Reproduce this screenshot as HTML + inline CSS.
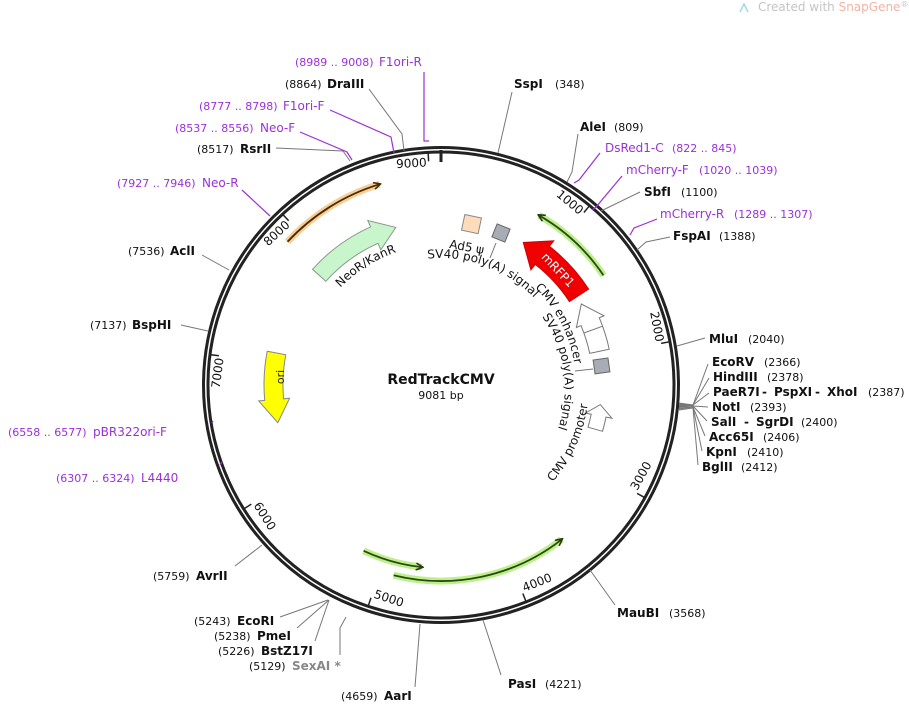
<!DOCTYPE html>
<html><head><meta charset="utf-8"><style>
html,body{margin:0;padding:0;background:#fff;}
svg{display:block;font-family:"DejaVu Sans","Liberation Sans",sans-serif;}
.n{font-size:11px;fill:#111;}
.b{font-size:12px;font-weight:bold;fill:#111;}
.p{font-size:12px;fill:#9b30d9;}
.pn{font-size:11px;fill:#9b30d9;}
.t{font-size:12px;fill:#111;}
.lk{stroke:#777;stroke-width:1;fill:none;}
.lp{stroke:#9b30d9;stroke-width:1.2;fill:none;}
</style></head><body>
<svg width="909" height="704" viewBox="0 0 909 704" xmlns="http://www.w3.org/2000/svg">
<defs>
<marker id="ah" markerWidth="8" markerHeight="8" refX="6" refY="4" orient="auto" markerUnits="userSpaceOnUse"><path d="M0,0.5 L7,4 L0,7.5" fill="none" stroke="#2a3a10" stroke-width="1.6"/></marker>
<marker id="ahb" markerWidth="8" markerHeight="8" refX="6" refY="4" orient="auto" markerUnits="userSpaceOnUse"><path d="M0,0.5 L7,4 L0,7.5" fill="none" stroke="#4a2a08" stroke-width="1.6"/></marker>
<path id="p1" d="M427.7,258.7 A127,127 0 1 1 454.3,511.3 A127,127 0 1 1 427.7,258.7"/>
<path id="p2" d="M534.8,287.9 A135,135 0 1 1 347.2,482.1 A135,135 0 1 1 534.8,287.9"/>
<path id="p3" d="M542.1,316.8 A122,122 0 1 1 339.9,453.2 A122,122 0 1 1 542.1,316.8"/>
<path id="p4" d="M552.7,482.1 A148,148 0 1 0 329.3,287.9 A148,148 0 1 0 552.7,482.1"/>
<path id="p5" d="M340.3,287.7 A140,140 0 1 1 541.7,482.3 A140,140 0 1 1 340.3,287.7"/>
</defs>

<path d="M740,12 L744,4 L748,12" fill="none" stroke="#9fd8e8" stroke-width="1.5"/>
<text x="758" y="11" font-size="12" fill="#c4c4c4">Created with <tspan fill="#f2b3a3">SnapGene</tspan><tspan font-size="8" dy="-4">®</tspan></text>

<circle cx="441" cy="385" r="237.5" fill="none" stroke="#222" stroke-width="3"/>
<circle cx="441" cy="385" r="233" fill="none" stroke="#222" stroke-width="3"/>
<line x1="441" y1="150" x2="441" y2="162" stroke="#222" stroke-width="3"/>

<g stroke="#222" stroke-width="1.5">
<line x1="441" y1="152" x2="441" y2="161" transform="rotate(-3.17 441 385)"/>
<line x1="441" y1="152" x2="441" y2="161" transform="rotate(39.64 441 385)"/>
<line x1="441" y1="152" x2="441" y2="161" transform="rotate(79.29 441 385)"/>
<line x1="441" y1="152" x2="441" y2="161" transform="rotate(118.93 441 385)"/>
<line x1="441" y1="152" x2="441" y2="161" transform="rotate(158.57 441 385)"/>
<line x1="441" y1="152" x2="441" y2="161" transform="rotate(198.22 441 385)"/>
<line x1="441" y1="152" x2="441" y2="161" transform="rotate(237.86 441 385)"/>
<line x1="441" y1="152" x2="441" y2="161" transform="rotate(277.5 441 385)"/>
<line x1="441" y1="152" x2="441" y2="161" transform="rotate(317.15 441 385)"/>
</g>
<g class="t">
<text x="439" y="166" text-anchor="end" transform="rotate(-3.17 441 385)">9000</text>
<text x="439" y="166" text-anchor="end" transform="rotate(39.64 441 385)">1000</text>
<text x="439" y="166" text-anchor="end" transform="rotate(79.29 441 385)">2000</text>
<text x="443" y="608" transform="rotate(-61.07 441 385)">3000</text>
<text x="443" y="608" transform="rotate(-21.43 441 385)">4000</text>
<text x="443" y="608" transform="rotate(18.22 441 385)">5000</text>
<text x="443" y="608" transform="rotate(57.86 441 385)">6000</text>
<text x="439" y="166" text-anchor="end" transform="rotate(277.5 441 385)">7000</text>
<text x="439" y="166" text-anchor="end" transform="rotate(317.15 441 385)">8000</text>
</g>

<path d="M287.5,241.8 A210,210 0 0 1 379.6,184.2" fill="none" stroke="#f6c98a" stroke-width="7" opacity="0.9"/>
<path d="M287.5,241.8 A210,210 0 0 1 379.6,184.2" fill="none" stroke="#4a2a08" stroke-width="1.8" marker-end="url(#ahb)"/>
<g fill="none">
<path d="M603.5,275.4 A196,196 0 0 0 539,215.3" stroke="#bdf08c" stroke-width="7"/>
<path d="M603.5,275.4 A196,196 0 0 0 539,215.3" stroke="#2a4a12" stroke-width="1.8" marker-end="url(#ah)"/>
<path d="M363.6,550.8 A183,183 0 0 0 421.9,567.1" stroke="#bdf08c" stroke-width="7"/>
<path d="M363.6,550.8 A183,183 0 0 0 421.9,567.1" stroke="#2a4a12" stroke-width="1.8" marker-end="url(#ah)"/>
<path d="M393.6,575.2 A196,196 0 0 0 561.7,539.4" stroke="#bdf08c" stroke-width="7"/>
<path d="M393.6,575.2 A196,196 0 0 0 561.7,539.4" stroke="#2a4a12" stroke-width="1.8" marker-end="url(#ah)"/>
</g>

<path d="M325.8,281.3 L312.5,269.3 A173,173 0 0 1 370.6,226.9 L367.8,220.5 L395.8,227.4 L380.8,249.8 L378,243.3 A155,155 0 0 0 325.8,281.3 Z" fill="#c9f5cc" stroke="#8a9a8a" stroke-width="1"/>
<path d="M267.2,351.2 A177,177 0 0 0 264.7,400.4 L258.7,400.9 L277.8,422.7 L289.6,398.2 L283.6,398.8 A158,158 0 0 1 285.8,354.8 Z" fill="#ffff00" stroke="#888" stroke-width="1"/>
<path d="M569.4,301.6 L588.6,289.1 A176,176 0 0 0 549.4,246.3 L553.7,240.8 L523.3,242.5 L530.9,269.9 L535.2,264.4 A153,153 0 0 1 569.4,301.6 Z" fill="#f00000" stroke="#c00" stroke-width="1"/>
<path d="M589.7,353.4 L609.2,349.2 A172,172 0 0 0 599.3,317.8 L604,315.8 L581.3,304 L576.4,327.5 L581,325.6 A152,152 0 0 1 589.7,353.4 Z" fill="#fff" stroke="#777" stroke-width="1"/>
<line x1="583.9" y1="333" x2="602.6" y2="326.2" stroke="#777" stroke-width="1"/>
<path d="M588,427.2 L602.5,431.3 A168,168 0 0 0 606,417.1 L611.9,418.2 L600.3,404.6 L585.4,413.1 L591.2,414.2 A153,153 0 0 1 588,427.2 Z" fill="#fff" stroke="#777" stroke-width="1"/>
<rect x="463" y="216" width="17" height="16" fill="#fddcbc" stroke="#888" transform="rotate(12 471 224)"/>
<rect x="494" y="226" width="14" height="14" fill="#a8acb4" stroke="#666" transform="rotate(22 501 233)"/>
<rect x="594" y="359" width="15" height="14" fill="#a8acb4" stroke="#666" transform="rotate(-8 601 366)"/>
<line x1="496" y1="243" x2="490" y2="258" class="lk"/>
<line x1="593" y1="369" x2="575" y2="371" class="lk"/>

<text x="558" y="274" text-anchor="middle" font-size="12" fill="#fff" transform="rotate(47 558 270)">mRFP1</text>
<text x="290" y="389" text-anchor="middle" font-size="11" fill="#222" transform="rotate(-90 281 386)">ori</text>
<text x="467" y="251" text-anchor="middle" class="t" transform="rotate(10 467 246)">Ad5 ψ</text>
<text class="t"><textPath href="#p1">SV40 poly(A) signal</textPath></text>
<text class="t"><textPath href="#p2">CMV enhancer</textPath></text>
<text class="t"><textPath href="#p3">SV40 poly(A) signal</textPath></text>
<text class="t"><textPath href="#p4">CMV promoter</textPath></text>
<text class="t"><textPath href="#p5">NeoR/KanR</textPath></text>

<text x="441" y="384" text-anchor="middle" font-size="14" font-weight="bold" fill="#111">RedTrackCMV</text>
<text x="441" y="399" text-anchor="middle" font-size="11" fill="#111">9081 bp</text>

<polyline class="lk" points="498,153 512,92"/>
<polyline class="lk" points="567,182 572,172 578,134"/>
<polyline class="lk" points="601,211 640,192"/>
<polyline class="lk" points="637,250 646,242 670,237"/>
<polyline class="lk" points="677,346 705,338"/>
<polyline class="lk" points="679,403 693,405 708,364"/>
<polyline class="lk" points="679,404 693,405 709,378"/>
<polyline class="lk" points="679,405 693,405 709,393"/>
<polyline class="lk" points="679,406 693,406 708,407"/>
<polyline class="lk" points="679,407 693,406 707,421"/>
<polyline class="lk" points="679,408 693,407 705,436"/>
<polyline class="lk" points="679,409 693,407 702,451"/>
<polyline class="lk" points="679,410 693,408 698,465"/>
<polyline class="lk" points="590,570 615,605"/>
<polyline class="lk" points="483,620 501,675"/>
<polyline class="lk" points="420,624 415,687"/>
<polyline class="lk" points="346,617 340,628 340,655"/>
<polyline class="lk" points="329,600 315,641"/>
<polyline class="lk" points="329,600 297,628"/>
<polyline class="lk" points="328,600 280,617"/>
<polyline class="lk" points="262,545 235,566"/>
<polyline class="lk" points="208,331 181,325"/>
<polyline class="lk" points="229,270 202,255"/>
<polyline class="lk" points="276,148 343,151 350,161"/>
<polyline class="lk" points="369,89 402,134 404,151"/>
<polyline class="lp" points="600,153 579,180 574,183"/>
<polyline class="lp" points="622,176 596,207 592,210"/>
<polyline class="lp" points="657,219 634,228 630,235"/>
<polyline class="lp" points="424,72 424,141 429,141"/>
<polyline class="lp" points="330,110 391,137 394,153"/>
<polyline class="lp" points="300,132 347,152 352,160"/>
<polyline class="lp" points="242,190 270,216"/>
<polyline class="lp" points="213,421 212,423"/>
<polyline class="lp" points="222,462 220,465"/>

<text y="88"><tspan x="514" class="b">SspI</tspan><tspan x="555" class="n">(348)</tspan></text>
<text y="131"><tspan x="580" class="b">AleI</tspan><tspan x="614" class="n">(809)</tspan></text>
<text y="152"><tspan x="605" class="p">DsRed1-C</tspan><tspan x="672" class="pn">(822 .. 845)</tspan></text>
<text y="174"><tspan x="626" class="p">mCherry-F</tspan><tspan x="699" class="pn">(1020 .. 1039)</tspan></text>
<text y="196"><tspan x="644" class="b">SbfI</tspan><tspan x="681" class="n">(1100)</tspan></text>
<text y="218"><tspan x="660" class="p">mCherry-R</tspan><tspan x="734" class="pn">(1289 .. 1307)</tspan></text>
<text y="240"><tspan x="673" class="b">FspAI</tspan><tspan x="719" class="n">(1388)</tspan></text>
<text y="343"><tspan x="709" class="b">MluI</tspan><tspan x="748" class="n">(2040)</tspan></text>
<text y="366"><tspan x="712" class="b">EcoRV</tspan><tspan x="764" class="n">(2366)</tspan></text>
<text y="381"><tspan x="713" class="b">HindIII</tspan><tspan x="767" class="n">(2378)</tspan></text>
<text y="396"><tspan x="713" class="b">PaeR7I</tspan><tspan x="762" class="b">-</tspan><tspan x="774" class="b">PspXI</tspan><tspan x="815" class="b">-</tspan><tspan x="827" class="b">XhoI</tspan><tspan x="868" class="n">(2387)</tspan></text>
<text y="411"><tspan x="712" class="b">NotI</tspan><tspan x="750" class="n">(2393)</tspan></text>
<text y="426"><tspan x="711" class="b">SalI</tspan><tspan x="744" class="b">-</tspan><tspan x="756" class="b">SgrDI</tspan><tspan x="801" class="n">(2400)</tspan></text>
<text y="441"><tspan x="709" class="b">Acc65I</tspan><tspan x="763" class="n">(2406)</tspan></text>
<text y="456"><tspan x="706" class="b">KpnI</tspan><tspan x="747" class="n">(2410)</tspan></text>
<text y="471"><tspan x="702" class="b">BglII</tspan><tspan x="741" class="n">(2412)</tspan></text>
<text y="617"><tspan x="617" class="b">MauBI</tspan><tspan x="669" class="n">(3568)</tspan></text>
<text y="688"><tspan x="508" class="b">PasI</tspan><tspan x="545" class="n">(4221)</tspan></text>
<text y="700"><tspan x="341" class="n">(4659)</tspan><tspan x="384" class="b">AarI</tspan></text>
<text y="670"><tspan x="249" class="n">(5129)</tspan><tspan x="292" font-size="12" font-weight="bold" fill="#888">SexAI *</tspan></text>
<text y="655"><tspan x="218" class="n">(5226)</tspan><tspan x="261" class="b">BstZ17I</tspan></text>
<text y="640"><tspan x="214" class="n">(5238)</tspan><tspan x="257" class="b">PmeI</tspan></text>
<text y="625"><tspan x="194" class="n">(5243)</tspan><tspan x="237" class="b">EcoRI</tspan></text>
<text y="580"><tspan x="153" class="n">(5759)</tspan><tspan x="196" class="b">AvrII</tspan></text>
<text y="482"><tspan x="56" class="pn">(6307 .. 6324)</tspan><tspan x="141" class="p">L4440</tspan></text>
<text y="436"><tspan x="8" class="pn">(6558 .. 6577)</tspan><tspan x="93" class="p">pBR322ori-F</tspan></text>
<text y="329"><tspan x="90" class="n">(7137)</tspan><tspan x="132" class="b">BspHI</tspan></text>
<text y="255"><tspan x="128" class="n">(7536)</tspan><tspan x="170" class="b">AclI</tspan></text>
<text y="187"><tspan x="117" class="pn">(7927 .. 7946)</tspan><tspan x="202" class="p">Neo-R</tspan></text>
<text y="153"><tspan x="197" class="n">(8517)</tspan><tspan x="240" class="b">RsrII</tspan></text>
<text y="132"><tspan x="175" class="pn">(8537 .. 8556)</tspan><tspan x="260" class="p">Neo-F</tspan></text>
<text y="110"><tspan x="199" class="pn">(8777 .. 8798)</tspan><tspan x="283" class="p">F1ori-F</tspan></text>
<text y="88"><tspan x="285" class="n">(8864)</tspan><tspan x="327" class="b">DraIII</tspan></text>
<text y="66"><tspan x="295" class="pn">(8989 .. 9008)</tspan><tspan x="379" class="p">F1ori-R</tspan></text>
</svg>
</body></html>
